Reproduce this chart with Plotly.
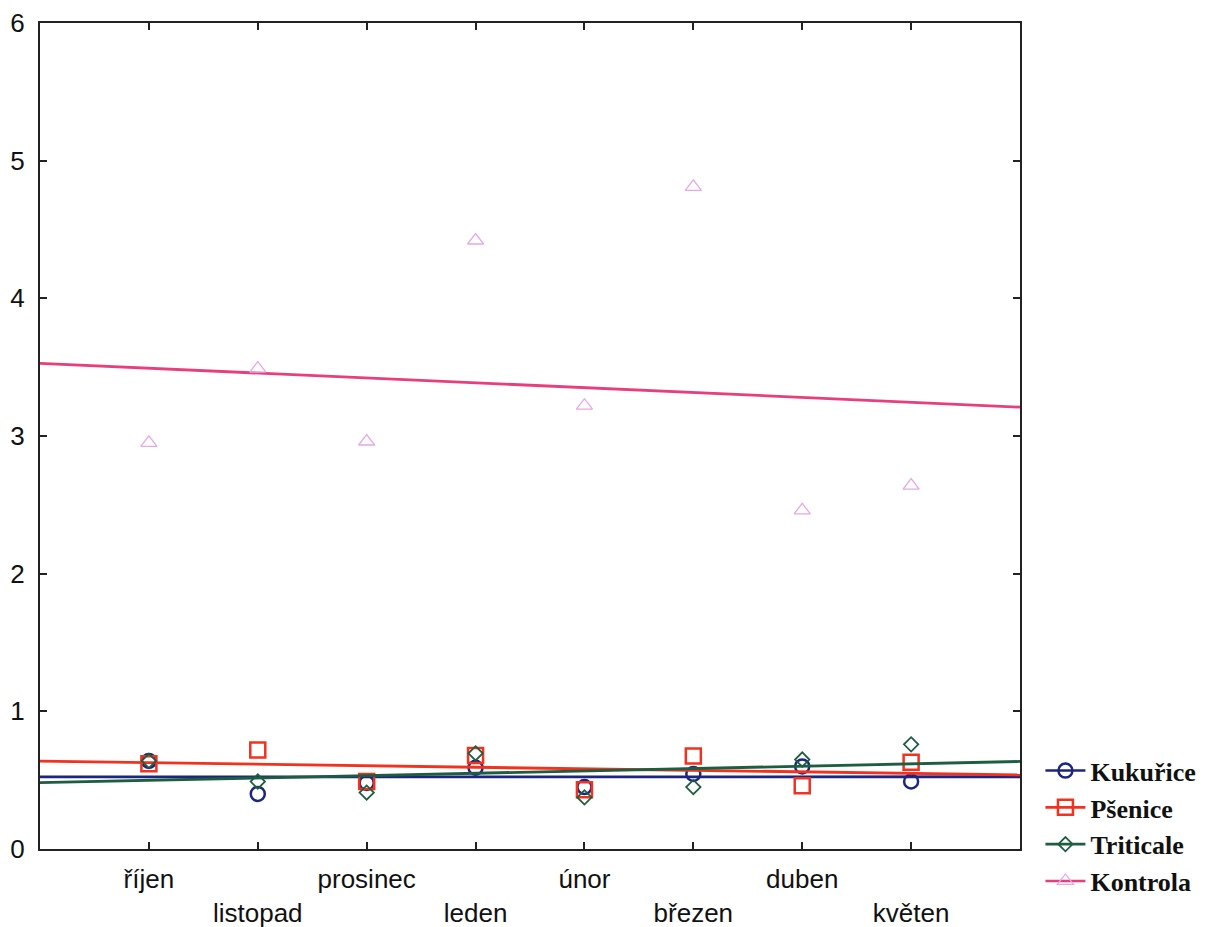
import numpy as np
import plotly.graph_objects as go

# Months (October .. May)
months = ["říjen", "listopad", "prosinec", "leden", "únor", "březen", "duben", "květen"]
month_pos = [1, 2, 3, 4, 5, 6, 7, 8]

kukurice = [0.64, 0.40, 0.48, 0.59, 0.45, 0.545, 0.60, 0.49]
psenice = [0.62, 0.72, 0.49, 0.68, 0.43, 0.675, 0.46, 0.63]
triticale = [0.64, 0.49, 0.41, 0.695, 0.375, 0.45, 0.65, 0.76]
kontrola = [2.95, 3.49, 2.96, 4.42, 3.22, 4.81, 2.46, 2.64]

y_ticks = [0, 1, 2, 3, 4, 5, 6]

series = [
    ("Kukuřice", kukurice, "#1c2580", "#1c2580", "circle-open", 14, 2.5),
    ("Pšenice", psenice, "#f2321e", "#f2321e", "square-open", 15, 2.5),
    ("Triticale", triticale, "#1e5e40", "#1e5e40", "diamond-open", 11, 1.8),
    ("Kontrola", kontrola, "#e83e7c", "#e6a8e6", "triangle-up-open", 14, 1.3),
]

x_line = np.linspace(0, 9, 50)

fig = go.Figure()
for name, vals, line_col, mk_col, symbol, size, mk_w in series:
    slope, intercept = np.polyfit(month_pos, vals, 1)
    fig.add_trace(go.Scatter(
        x=x_line, y=slope * x_line + intercept, mode="lines",
        line=dict(color=line_col, width=2.8), showlegend=False, hoverinfo="skip",
    ))
    fig.add_trace(go.Scatter(
        x=month_pos, y=vals, mode="markers",
        marker=dict(symbol=symbol, size=size, color=mk_col, line=dict(width=mk_w, color=mk_col)),
        showlegend=False, name=name,
    ))
    # legend key showing both the fit line and the marker
    fig.add_trace(go.Scatter(
        x=[None], y=[None], mode="lines+markers", name=name,
        line=dict(color=line_col, width=2.6),
        marker=dict(symbol=symbol, size=size, color=mk_col, line=dict(width=mk_w, color=mk_col)),
    ))

tick_text = [m if i % 2 == 0 else "<br>" + m for i, m in enumerate(months)]

axis_common = dict(
    showline=True, linecolor="#222222", linewidth=2, mirror="ticks",
    ticks="inside", ticklen=7, tickwidth=2, tickcolor="#222222",
    showgrid=False, zeroline=False, automargin=False,
    tickfont=dict(family="Liberation Sans, Arial, sans-serif", size=26, color="#111111"),
)

fig.update_xaxes(range=[0, 9], tickvals=month_pos, ticktext=tick_text,
                 ticklabelstandoff=6, **axis_common)
fig.update_yaxes(range=[0, 6], tickvals=y_ticks, ticklabelstandoff=8, **axis_common)

fig.update_layout(
    width=1207, height=927,
    margin=dict(l=40, r=187, t=23, b=78),
    plot_bgcolor="white", paper_bgcolor="white",
    legend=dict(
        xref="container", yref="container",
        x=0.862, y=0.194, xanchor="left", yanchor="top",
        font=dict(family="Liberation Serif, Times New Roman, serif", size=26,
                  color="#111111", weight="bold"),
        itemwidth=40, tracegroupgap=0, bgcolor="rgba(0,0,0,0)",
    ),
)

fig.write_html("out.html")
